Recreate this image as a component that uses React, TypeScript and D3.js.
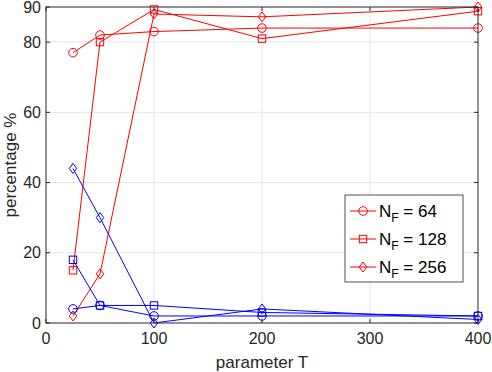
import React from "react";
import * as d3 from "d3";

const paramT = [25, 50, 100, 200, 400];
const redCircle = [77, 82, 83, 84, 84];
const redSquare = [15, 80, 89.3, 81, 88.8];
const redDiamond = [2, 14, 88, 87.2, 90];
const blueCircle = [4, 5, 2, 2, 2];
const blueSquare = [18, 5, 5, 3, 2];
const blueDiamond = [44, 30, 0, 4, 1];
const xTicks = [0, 100, 200, 300, 400];
const yTicks = [0, 20, 40, 60, 80, 90];
const legendLabels = ["64", "128", "256"];

const W = 492, H = 372;
const M = { left: 46, right: 14, top: 7, bottom: 49 };

function Marker({ kind, cx, cy, color }: { kind: string; cx: number; cy: number; color: string }) {
  if (kind === "circle") return <circle cx={cx} cy={cy} r={4.3} fill="none" stroke={color} strokeWidth={1} />;
  if (kind === "square") return <rect x={cx - 3.7} y={cy - 3.7} width={7.4} height={7.4} fill="none" stroke={color} strokeWidth={1} />;
  const r = 5;
  return <path d={`M${cx},${cy - r}L${cx + r * 0.75},${cy}L${cx},${cy + r}L${cx - r * 0.75},${cy}Z`} fill="none" stroke={color} strokeWidth={1} />;
}

export default function App() {
  const x = d3.scaleLinear().domain([0, 400]).range([M.left, W - M.right]);
  const y = d3.scaleLinear().domain([0, 90]).range([H - M.bottom, M.top]);
  const line = d3.line<[number, number]>().x(d => x(d[0])).y(d => y(d[1]));
  const red = "#ff0000", blue = "#0000ff";
  const series = [
    { vals: redCircle, kind: "circle", color: red },
    { vals: redSquare, kind: "square", color: red },
    { vals: redDiamond, kind: "diamond", color: red },
    { vals: blueCircle, kind: "circle", color: blue },
    { vals: blueSquare, kind: "square", color: blue },
    { vals: blueDiamond, kind: "diamond", color: blue },
  ];
  const axisColor = "#262626";
  const font = "'Liberation Sans', Arial, Helvetica, sans-serif";
  const x0 = x(0), x1 = x(400), y0 = y(0), y1 = y(90);
  const legend = { x: 345, y: 195, w: 118, h: 87 };
  return (
    <svg width={W} height={H} style={{ position: "absolute", left: 0, top: 0, background: "#fff" }} fontFamily={font}>
      <rect x={0} y={0} width={W} height={H} fill="#fff" />
      {xTicks.slice(1, -1).map(t => (
        <line key={"gx" + t} x1={x(t)} x2={x(t)} y1={y0} y2={y1} stroke="#e6e6e6" strokeWidth={1} />
      ))}
      {yTicks.slice(1, -1).map(t => (
        <line key={"gy" + t} x1={x0} x2={x1} y1={y(t)} y2={y(t)} stroke="#e6e6e6" strokeWidth={1} />
      ))}
      {series.map((s, i) => (
        <g key={i}>
          <path d={line(paramT.map((t, j) => [t, s.vals[j]] as [number, number])) || ""} fill="none" stroke={s.color} strokeWidth={1} />
          {paramT.map((t, j) => (
            <Marker key={j} kind={s.kind} cx={x(t)} cy={y(s.vals[j])} color={s.color} />
          ))}
        </g>
      ))}
      <rect x={x0} y={y1} width={x1 - x0} height={y0 - y1} fill="none" stroke={axisColor} strokeWidth={1} />
      {xTicks.map(t => (
        <g key={"xt" + t}>
          <line x1={x(t)} x2={x(t)} y1={y0} y2={y0 - 4} stroke={axisColor} />
          <line x1={x(t)} x2={x(t)} y1={y1} y2={y1 + 4} stroke={axisColor} />
          <text x={x(t)} y={y0 + 21} textAnchor="middle" fontSize={16} fill={axisColor}>{t}</text>
        </g>
      ))}
      {yTicks.map(t => (
        <g key={"yt" + t}>
          <line x1={x0} x2={x0 + 4} y1={y(t)} y2={y(t)} stroke={axisColor} />
          <line x1={x1} x2={x1 - 4} y1={y(t)} y2={y(t)} stroke={axisColor} />
          <text x={x0 - 5} y={y(t) + 5.5} textAnchor="end" fontSize={16} fill={axisColor}>{t}</text>
        </g>
      ))}
      <text x={(x0 + x1) / 2} y={H - 4} textAnchor="middle" fontSize={17} fill={axisColor}>parameter T</text>
      <text transform={`translate(16,${(y0 + y1) / 2}) rotate(-90)`} textAnchor="middle" fontSize={17} fill={axisColor}>percentage %</text>
      <rect x={legend.x} y={legend.y} width={legend.w} height={legend.h} fill="#fff" stroke="#262626" strokeWidth={0.8} />
      {legendLabels.map((lab, i) => {
        const ly = legend.y + 16 + i * 28;
        const kinds = ["circle", "square", "diamond"];
        return (
          <g key={lab}>
            <line x1={legend.x + 5} x2={legend.x + 31} y1={ly} y2={ly} stroke={red} />
            <Marker kind={kinds[i]} cx={legend.x + 18} cy={ly} color={red} />
            <text x={legend.x + 34} y={ly + 6} fontSize={17} fill="#000">
              N<tspan fontSize={12} dy={5}>F</tspan><tspan dy={-5}>{" = " + lab}</tspan>
            </text>
          </g>
        );
      })}
    </svg>
  );
}
